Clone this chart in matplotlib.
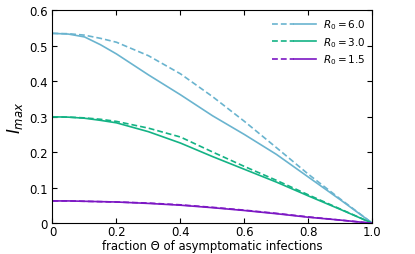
import numpy as np
import matplotlib.pyplot as plt
from matplotlib.legend_handler import HandlerTuple

# fraction of asymptomatic infections
theta = [0.0, 0.05, 0.1, 0.15, 0.2, 0.3, 0.4, 0.5, 0.6, 0.7, 0.8, 0.9, 1.0]

# R0 = 6.0
r6_solid = [0.535, 0.533, 0.525, 0.503, 0.477, 0.418, 0.362, 0.303, 0.250, 0.194, 0.130, 0.066, 0.0]
r6_dash = [0.535, 0.534, 0.530, 0.521, 0.510, 0.472, 0.421, 0.357, 0.287, 0.213, 0.138, 0.068, 0.0]
# R0 = 3.0
r3_solid = [0.300, 0.299, 0.296, 0.290, 0.283, 0.258, 0.226, 0.188, 0.152, 0.116, 0.077, 0.039, 0.0]
r3_dash = [0.300, 0.299, 0.297, 0.293, 0.287, 0.268, 0.243, 0.201, 0.160, 0.121, 0.080, 0.040, 0.0]
# R0 = 1.5
r15_solid = [0.063, 0.063, 0.062, 0.061, 0.060, 0.056, 0.051, 0.044, 0.036, 0.027, 0.017, 0.009, 0.0]
r15_dash = [0.063, 0.063, 0.062, 0.061, 0.060, 0.057, 0.052, 0.045, 0.037, 0.028, 0.018, 0.009, 0.0]

labels = ["$R_0 = 6.0$", "$R_0 = 3.0$", "$R_0 = 1.5$"]
colors = ["#6ab4cf", "#14b385", "#7c17c4"]

xticks = [0, 0.2, 0.4, 0.6, 0.8, 1.0]
xticklabels = ["0", "0.2", "0.4", "0.6", "0.8", "1.0"]
yticks = [0, 0.1, 0.2, 0.3, 0.4, 0.5, 0.6]
yticklabels = ["0", "0.1", "0.2", "0.3", "0.4", "0.5", "0.6"]

fig = plt.figure(figsize=(4.15, 2.55), dpi=100)
ax = fig.add_axes([0.1265, 0.1204, 0.771, 0.8353])

handles = []
for solid, dash, c in zip([r6_solid, r3_solid, r15_solid], [r6_dash, r3_dash, r15_dash], colors):
    hd, = ax.plot(theta, dash, color=c, lw=1.2, ls=(0, (3.5, 1.8)))
    hs, = ax.plot(theta, solid, color=c, lw=1.2)
    handles.append((hd, hs))

ax.set_xlim(0, 1)
ax.set_ylim(0, 0.6)
ax.set_xticks(xticks)
ax.set_xticklabels(xticklabels)
ax.set_yticks(yticks)
ax.set_yticklabels(yticklabels)
ax.tick_params(direction="in", top=True, right=True, labelsize=8.5, length=3.5, width=0.8)
ax.tick_params(axis="x", pad=1.5)
ax.set_xlabel("fraction \u0398 of asymptomatic infections", fontsize=8.4, labelpad=0.5)
ax.set_ylabel("$I_{max}$", fontsize=12, labelpad=3)

ax.legend(handles, labels, handler_map={tuple: HandlerTuple(ndivide=None, pad=0)},
          loc="upper right", frameon=False, fontsize=7.5, handlelength=4.3,
          borderaxespad=0.3, labelspacing=0.35, handletextpad=0.6)

fig.savefig("out.png", dpi=100)
